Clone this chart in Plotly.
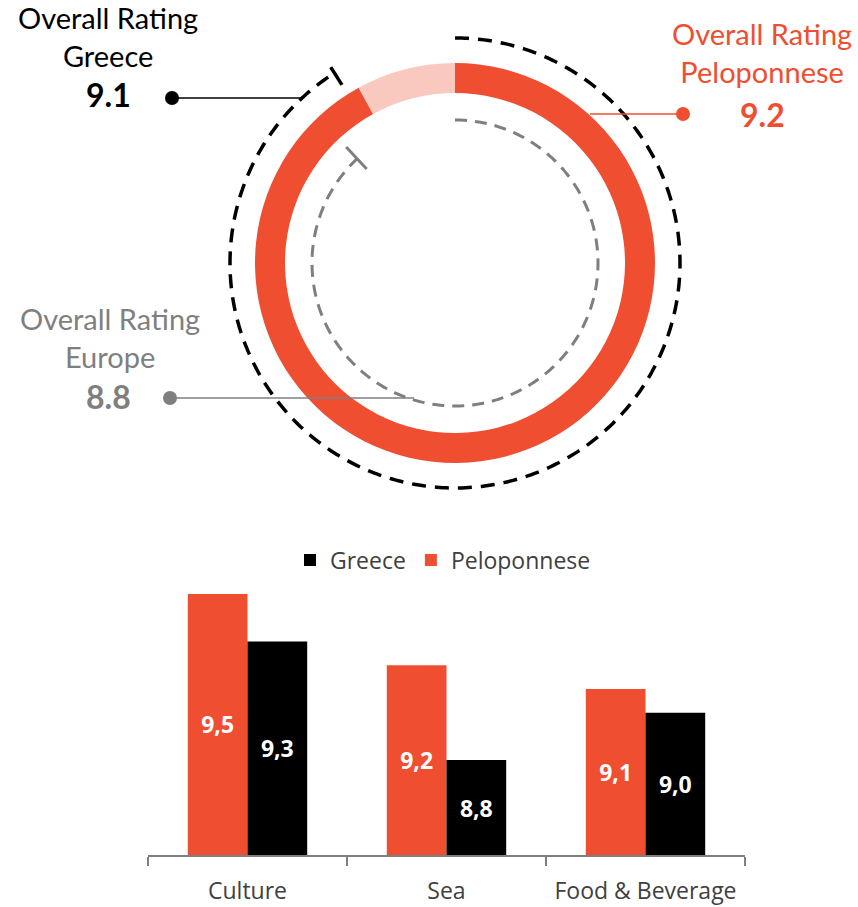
import numpy as np
import plotly.graph_objects as go

# ---------------- data ----------------
scale_max = 10
overall_peloponnese = 9.2
overall_greece = 9.1
overall_europe = 8.8

categories = ["Culture", "Sea", "Food & Beverage"]
peloponnese = [9.5, 9.2, 9.1]
greece = [9.3, 8.8, 9.0]
bar_floor = 8.4

# ---------------- style ----------------
RED = "#F04E31"
PINK = "#F9C9BF"
GRAY = "#7F7F7F"
DARK = "#404040"
W, H = 858, 907
CX, CY, R = 455, 263, 232


def px(x):
    return x / W


def py(y):
    return 1 - y / H


def deg(v):
    return v / scale_max * 360


fig = go.Figure()

# ring (Peloponnese)
a = deg(overall_peloponnese)
fig.add_trace(go.Barpolar(
    r=[30, 30], base=[170, 170],
    theta=[a / 2, a + (360 - a) / 2], width=[a, 360 - a],
    marker=dict(color=[RED, PINK], line=dict(width=0)),
    showlegend=False, hoverinfo="skip", subplot="polar"))

# Greece dashed arc
ag = deg(overall_greece)
th = np.linspace(0, ag, 400)
fig.add_trace(go.Scatterpolar(
    r=np.full(th.shape, 225.0), theta=th, mode="lines",
    line=dict(color="black", width=3.5, dash="14px,9px"),
    showlegend=False, hoverinfo="skip", subplot="polar"))
fig.add_trace(go.Scatterpolar(
    r=[211, 246], theta=[ag, ag], mode="lines",
    line=dict(color="black", width=3.5),
    showlegend=False, hoverinfo="skip", subplot="polar"))

# Europe dashed arc
ae = deg(overall_europe)
th2 = np.linspace(0, ae, 400)
fig.add_trace(go.Scatterpolar(
    r=np.full(th2.shape, 143.0), theta=th2, mode="lines",
    line=dict(color=GRAY, width=3, dash="12px,8px"),
    showlegend=False, hoverinfo="skip", subplot="polar"))
fig.add_trace(go.Scatterpolar(
    r=[129, 159], theta=[ae, ae], mode="lines",
    line=dict(color=GRAY, width=3),
    showlegend=False, hoverinfo="skip", subplot="polar"))

# ---------------- bars ----------------
def fmt(v):
    return f"<b>{v:.1f}</b>".replace(".", ",")

fig.add_trace(go.Bar(
    x=categories, y=[v - bar_floor for v in peloponnese], base=bar_floor,
    name="Peloponnese", marker=dict(color=RED, line=dict(width=0)),
    text=[fmt(v) for v in peloponnese], textposition="inside",
    insidetextanchor="middle",
    textfont=dict(family="Open Sans", size=23, color="white"),
    hoverinfo="skip"))
fig.add_trace(go.Bar(
    x=categories, y=[v - bar_floor for v in greece], base=bar_floor,
    name="Greece", marker=dict(color="black", line=dict(width=0)),
    text=[fmt(v) for v in greece], textposition="inside",
    insidetextanchor="middle",
    textfont=dict(family="Open Sans", size=23, color="white"),
    hoverinfo="skip"))

# ---------------- annotations ----------------
ann = []
lab_font = dict(family="Lato", size=29)
val_font = dict(family="Lato", size=32)

def add_label(x, y, text, color, bold=False):
    f = dict(val_font if bold else lab_font)
    f["color"] = color
    ann.append(dict(x=px(x), y=py(y), xref="paper", yref="paper",
                    text=(f"<b>{text}</b>" if bold else text), showarrow=False,
                    xanchor="center", yanchor="middle", align="center", font=f))

add_label(108, 36, "Overall Rating<br>Greece", "black")
add_label(108, 95, f"{overall_greece:.1f}", "black", bold=True)
add_label(110, 338, "Overall Rating<br>Europe", GRAY)
add_label(108, 396, f"{overall_europe:.1f}", GRAY, bold=True)
add_label(762, 52, "Overall Rating<br>Peloponnese", RED)
add_label(762, 114, f"{overall_peloponnese:.1f}", RED, bold=True)

shapes = []

def leader(x0, x1, y, dotx, color):
    shapes.append(dict(type="line", xref="paper", yref="paper",
                       x0=px(x0), x1=px(x1), y0=py(y), y1=py(y),
                       line=dict(color=color, width=1.5)))
    shapes.append(dict(type="circle", xref="paper", yref="paper",
                       xsizemode="pixel", ysizemode="pixel",
                       xanchor=px(dotx), yanchor=py(y),
                       x0=-7, x1=7, y0=-7, y1=7,
                       fillcolor=color, line=dict(width=0)))

leader(172, 302, 98, 172, "black")
leader(590, 683, 114, 683, RED)
leader(170, 414, 398, 170, GRAY)

fig.update_layout(
    width=W, height=H,
    margin=dict(l=0, r=0, t=0, b=0),
    paper_bgcolor="white", plot_bgcolor="white",
    polar=dict(
        domain=dict(x=[px(CX - R), px(CX + R)], y=[py(CY + R), py(CY - R)]),
        radialaxis=dict(visible=False, range=[0, R]),
        angularaxis=dict(visible=False, rotation=90, direction="clockwise"),
        bgcolor="rgba(0,0,0,0)"),
    xaxis=dict(domain=[px(148), px(745)], showline=True, linecolor=GRAY,
               linewidth=1.5, ticks="outside", tickson="boundaries",
               ticklen=9, tickcolor=GRAY, tickwidth=1.5,
               ticklabelstandoff=15,
               tickfont=dict(family="Open Sans", size=23, color=DARK),
               showgrid=False, fixedrange=True),
    yaxis=dict(domain=[py(855), py(575)], range=[bar_floor, 9.58],
               visible=False, fixedrange=True),
    barmode="group", bargap=0.4, bargroupgap=0,
    legend=dict(orientation="h", x=px(443), xanchor="center",
                y=py(560), yanchor="middle", traceorder="reversed",
                font=dict(family="Open Sans", size=23, color=DARK)),
    annotations=ann, shapes=shapes,
    showlegend=True,
)

fig.write_html(
    "out.html",
    config={"displayModeBar": False},
    post_script="document.body.style.margin='0px';document.body.style.overflow='hidden';",
)
